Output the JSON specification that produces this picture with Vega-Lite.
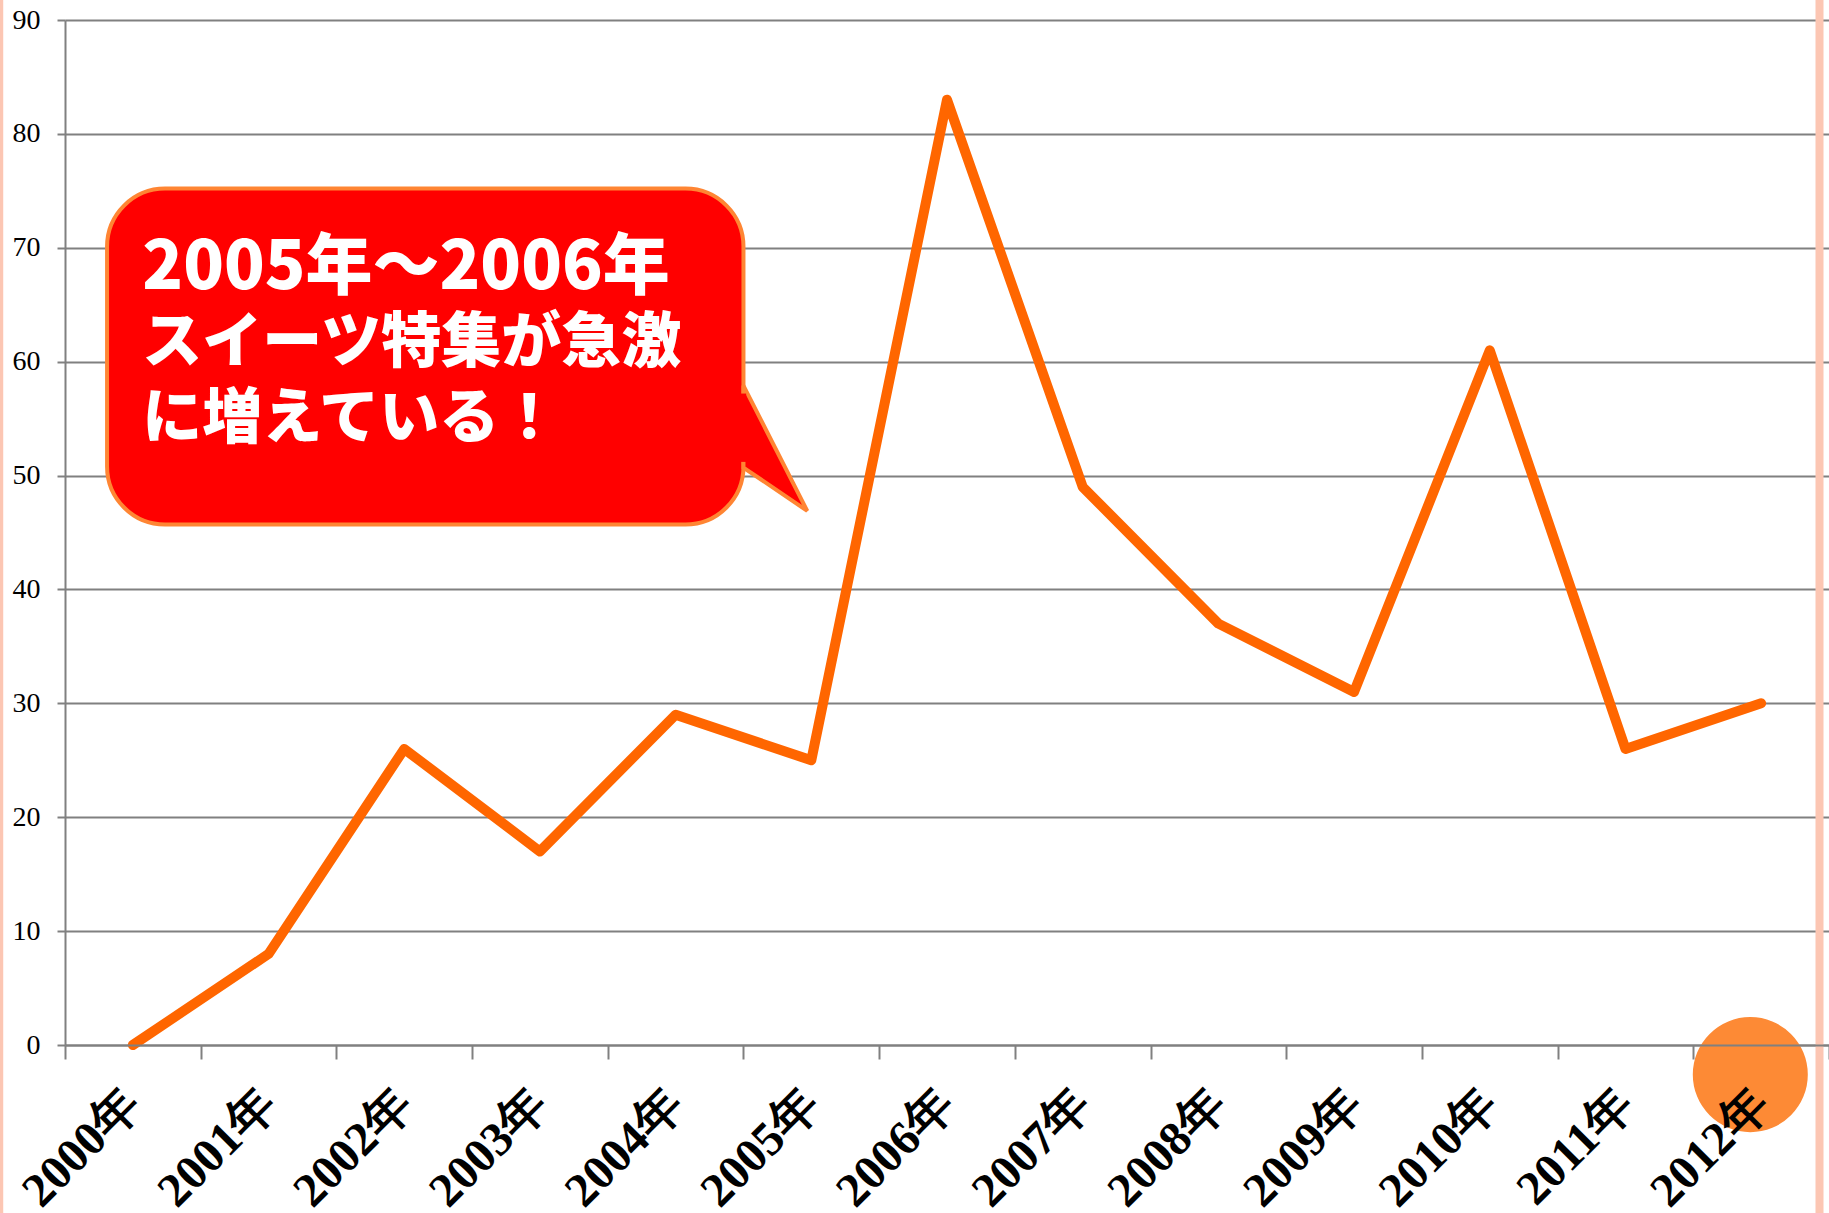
{
  "$schema": "https://vega.github.io/schema/vega-lite/v6.json",
  "width": 1764,
  "height": 1025,
  "autosize": {"type": "none"},
  "padding": {"left": 65, "top": 20, "right": 0, "bottom": 168},
  "background": "white",
  "config": {
    "view": {"stroke": null}
  },
  "datasets": {
    "counts": [
      {"year": "2000年", "count": 0},
      {"year": "2001年", "count": 8},
      {"year": "2002年", "count": 26},
      {"year": "2003年", "count": 17},
      {"year": "2004年", "count": 29},
      {"year": "2005年", "count": 25},
      {"year": "2006年", "count": 83},
      {"year": "2007年", "count": 49},
      {"year": "2008年", "count": 37},
      {"year": "2009年", "count": 31},
      {"year": "2010年", "count": 61},
      {"year": "2011年", "count": 26},
      {"year": "2012年", "count": 30}
    ],
    "marker": [{"x": 2011.92, "value": -2.6}],
    "frame": [
      {"x": 1999.03, "top": 95, "bottom": -20, "w": "thin"},
      {"x": 2012.43, "top": 95, "bottom": -20, "w": "wide"}
    ],
    "callout": [{"x": 1999.81, "x2": 2004.5, "y": 75.2, "y2": 45.7}],
    "tail": [
      {"x": 2004.5, "top": 57.9, "bottom": 50.7},
      {"x": 2004.97, "top": 46.9, "bottom": 46.9}
    ],
    "join": [{"x": 2004.46, "x2": 2004.52, "y": 57.2, "y2": 51.2}],
    "calloutHead": [
      {"x": 2000.07, "y": 66.4, "text": "2005年～2006年"}
    ],
    "calloutText": [
      {"x": 2000.07, "y": 60.0, "text": "スイーツ特集が急激"},
      {"x": 2000.07, "y": 53.3, "text": "に増えている！"}
    ]
  },
  "layer": [
    {
      "layer": [
        {
          "data": {"name": "counts"},
          "mark": {"type": "line", "color": "#ff6600", "strokeWidth": 10, "strokeCap": "round", "strokeJoin": "round"},
          "encoding": {
            "x": {
              "field": "year", "type": "ordinal", "sort": null,
              "scale": {"paddingInner": 0, "paddingOuter": 0},
              "axis": {
                "title": null, "labelAngle": -45, "labelAlign": "right", "labelBaseline": "middle",
                "labelFont": "Liberation Serif", "labelFontWeight": "bold", "labelFontSize": 48,
                "labelColor": "#000000", "labelPadding": 38, "labelOverlap": false, "labelBound": false,
                "tickBand": "extent", "tickSize": 14, "tickColor": "#808080", "tickWidth": 2,
                "domainColor": "#808080", "domainWidth": 2, "grid": false, "zindex": 1
              }
            },
            "y": {
              "field": "count", "type": "quantitative",
              "scale": {"domain": [0, 90], "nice": false, "zero": true},
              "axis": {
                "values": [0, 10, 20, 30, 40, 50, 60, 70, 80, 90],
                "grid": true, "gridColor": "#808080", "gridWidth": 2, "gridOpacity": 1,
                "domain": true, "domainColor": "#808080", "domainWidth": 2,
                "ticks": true, "tickColor": "#808080", "tickWidth": 2, "tickSize": 8,
                "labelFont": "Liberation Serif", "labelFontSize": 28, "labelColor": "#000000",
                "labelPadding": 17, "title": null, "zindex": 0
              }
            }
          }
        }
      ]
    },
    {
      "layer": [
        {
          "data": {"name": "frame"},
          "mark": {"type": "rule", "color": "#fcc6b3"},
          "encoding": {
            "x": {"field": "x", "type": "quantitative", "scale": {"domain": [1999.5, 2012.5], "nice": false, "zero": false}, "axis": null},
            "y": {"field": "top", "type": "quantitative"},
            "y2": {"field": "bottom"},
            "strokeWidth": {"field": "w", "type": "nominal", "scale": {"domain": ["thin", "wide"], "range": [4, 8]}, "legend": null}
          }
        },
        {
          "data": {"name": "marker"},
          "mark": {"type": "point", "filled": true, "shape": "circle", "size": 13225, "color": "#fd8a35", "opacity": 1, "strokeWidth": 0},
          "encoding": {
            "x": {"field": "x", "type": "quantitative"},
            "y": {"field": "value", "type": "quantitative"}
          }
        },
        {
          "data": {"name": "callout"},
          "mark": {"type": "rect", "fill": "#ff0000", "stroke": "#ff8533", "strokeWidth": 4, "cornerRadius": 58},
          "encoding": {
            "x": {"field": "x", "type": "quantitative"},
            "x2": {"field": "x2"},
            "y": {"field": "y", "type": "quantitative"},
            "y2": {"field": "y2"}
          }
        },
        {
          "data": {"name": "tail"},
          "mark": {"type": "area", "fill": "#ff0000", "fillOpacity": 1, "stroke": "#ff8533", "strokeWidth": 4, "strokeJoin": "miter"},
          "encoding": {
            "x": {"field": "x", "type": "quantitative"},
            "y": {"field": "top", "type": "quantitative"},
            "y2": {"field": "bottom"}
          }
        },
        {
          "data": {"name": "join"},
          "mark": {"type": "rect", "fill": "#ff0000", "strokeWidth": 0},
          "encoding": {
            "x": {"field": "x", "type": "quantitative"},
            "x2": {"field": "x2"},
            "y": {"field": "y", "type": "quantitative"},
            "y2": {"field": "y2"}
          }
        },
        {
          "data": {"name": "calloutHead"},
          "mark": {"type": "text", "align": "left", "baseline": "alphabetic", "font": "Noto Sans CJK JP", "fontWeight": 900, "fontSize": 67, "color": "#ffffff"},
          "encoding": {
            "x": {"field": "x", "type": "quantitative"},
            "y": {"field": "y", "type": "quantitative"},
            "text": {"field": "text"}
          }
        },
        {
          "data": {"name": "calloutText"},
          "mark": {"type": "text", "align": "left", "baseline": "alphabetic", "font": "Noto Sans CJK JP", "fontWeight": 900, "fontSize": 60, "color": "#ffffff"},
          "encoding": {
            "x": {"field": "x", "type": "quantitative"},
            "y": {"field": "y", "type": "quantitative"},
            "text": {"field": "text"}
          }
        }
      ]
    }
  ],
  "resolve": {"scale": {"x": "independent"}}
}
